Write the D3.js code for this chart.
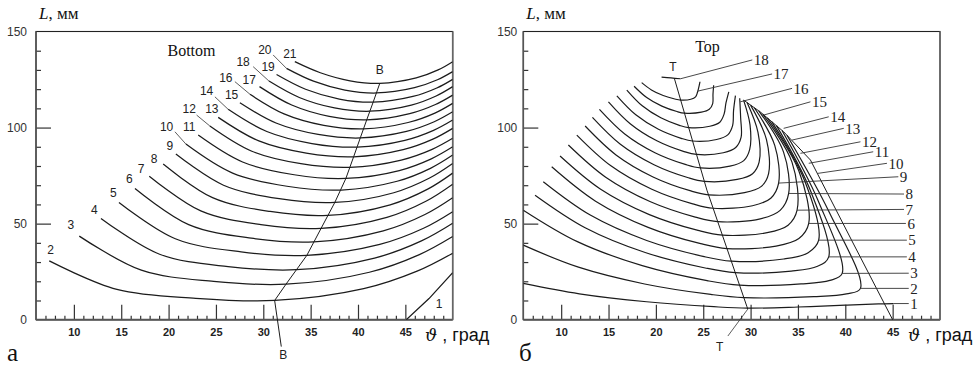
<!DOCTYPE html>
<html><head><meta charset="utf-8">
<script src="https://cdn.jsdelivr.net/npm/d3@7"></script>
<style>body{margin:0;background:#fff}</style>
</head><body>
<svg id="c" width="974" height="365" xmlns="http://www.w3.org/2000/svg"></svg>
<script>
// ---------------- data ----------------
const xMajorTicks = [10, 15, 20, 25, 30, 35, 40, 45];
const yTickLabels = [0, 50, 100, 150];
const yMajorTicks = [50, 100];

// Panel "а" (Bottom): contour curves, points are [theta, L]
const bottomCurveNums = [2,3,4,5,6,7,8,9,10,11,12,13,14,15,16,17,18,19,20,21];
const bottomCurves = [
  [[7.40,30.6],[14.54,15.77],[22.87,11.13],[31.2,10],[40.6,16.15],[46.24,25.25],[50,34.6]],
  [[10.57,43.5],[17.12,25.77],[24.76,19.95],[32.4,18.5],[41.2,24.7],[46.48,33.88],[50,43.3]],
  [[12.86,52.7],[19.05,34.06],[26.28,27.66],[33.5,26],[41.75,32.05],[46.7,41.0],[50,50.2]],
  [[14.76,61.0],[20.71,42.11],[27.66,35.29],[34.6,33.5],[42.3,39.18],[46.92,47.57],[50,56.2]],
  [[16.45,68.3],[22.12,49.51],[28.73,42.42],[35.34,40.5],[42.67,46.25],[47.07,54.76],[50,63.5]],
  [[17.96,74.7],[23.4,56.61],[29.75,49.46],[36.1,47.5],[43.05,53.25],[47.22,61.76],[50,70.5]],
  [[19.43,81.0],[24.64,63.54],[30.72,56.33],[36.8,54.3],[43.4,59.8],[47.36,67.94],[50,76.3]],
  [[20.77,86.2],[25.8,70.0],[31.68,62.99],[37.55,61],[43.78,66.08],[47.51,73.59],[50,81.3]],
  [[21.83,91.4],[26.76,76.3],[32.5,69.46],[38.25,67.5],[44.13,72.05],[47.65,78.78],[50,85.7]],
  [[23.13,96.1],[27.81,82.09],[33.26,75.44],[38.72,73.5],[44.36,77.63],[47.74,83.73],[50,90.0]],
  [[24.36,100.8],[28.79,87.68],[33.97,81.21],[39.14,79.3],[44.57,83.08],[47.83,88.66],[50,94.4]],
  [[25.24,105.3],[29.53,93.04],[34.54,86.71],[39.54,84.8],[44.77,88.5],[47.91,93.98],[50,99.6]],
  [[26.29,109.5],[30.37,97.94],[35.14,91.69],[39.9,89.8],[44.95,93.33],[47.98,98.54],[50,103.9]],
  [[27.53,112.9],[31.34,102.36],[35.79,96.43],[40.24,94.6],[45.12,98.0],[48.05,103.03],[50,108.2]],
  [[28.6,117.3],[32.19,107.13],[36.39,101.15],[40.58,99.3],[45.29,102.63],[48.12,107.55],[50,112.6]],
  [[29.6,121.3],[33.0,111.72],[36.96,105.83],[40.92,104],[45.46,107.23],[48.18,112.0],[50,116.9]],
  [[30.6,124.2],[33.8,115.67],[37.52,110.23],[41.25,108.5],[45.63,111.7],[48.25,116.44],[50,121.3]],
  [[31.4,127.6],[34.46,119.94],[38.03,114.83],[41.6,113.2],[45.8,116.18],[48.32,120.58],[50,125.1]],
  [[32.45,130.8],[35.3,124.13],[38.62,119.5],[41.94,118],[45.97,120.78],[48.39,124.88],[50,129.1]],
  [[33.33,134.3],[36.02,128.54],[39.16,124.36],[42.3,123],[46.15,125.83],[48.46,130.0],[50,134.3]]
];
const bottomCurve1 = [[45.1,0],[47.5,11],[50,24.5]];
const bottomLabelPos = [[7.55,36.2],[9.69,49.2],[12.15,57.0],[14.16,66.0],[15.85,73.5],[17.11,78.4],[18.48,84.0],[20.14,90.4],[19.79,100.4],[22.18,100.4],[22.18,110.0],[24.57,110.0],[24.01,119.2],[26.65,116.9],[26.05,126.1],[28.51,124.7],[27.87,134.3],[30.51,131.7],[30.16,140.7],[32.8,138.6]];
const bottomLabel1Pos = [48.56, 8.4];
const bottomLeaders = [
  [[20.67,97.8],[21.83,91.4]],
  [[22.96,106.5],[24.36,100.8]],
  [[24.89,116.0],[26.29,109.5]],
  [[27.0,123.9],[28.6,117.3]],
  [[28.93,131.7],[30.6,124.2]],
  [[31.04,137.8],[32.45,130.8]]
];
const lineBB = [[31.9,-14],[31.2,10],[32.4,18.5],[33.5,26],[34.6,33.5],[36.1,47.5],[37.55,61],[38.72,73.5],[39.54,84.8],[40.24,94.6],[40.92,104],[41.6,113.2],[42.3,123]];
const labelBTop = [42.3, 129.9];
const labelBBottom = [32.1, -18.5];

// Panel "б" (Top)
const topCurveNums = [1,2,3,4,5,6,7,8,9,10,11,12,13,14,15,16,17,18];
const topCurves = [
  [[6,18.9],[11.92,13.48],[19.02,9.35],[26.12,6.77],[29.67,6],[35,6.6],[40,7.6],[43.5,8.2],[45.1,8.4]],
  [[6,38.8],[11.82,27.33],[18.81,18.6],[25.8,13.14],[29.29,11.5],[36.68,11.98],[40.12,13.42],[41.6,16.3],[38.28,56.15],[33.84,96]],
  [[6,57],[11.71,40.62],[18.56,28.14],[25.41,20.34],[28.83,18],[35.33,18.61],[38.37,20.44],[39.67,24.1],[37.19,61.3],[33.32,98.5]],
  [[7.24,64.8],[12.53,47.87],[18.87,34.98],[25.21,26.92],[28.38,24.5],[34.3,25.32],[37.07,27.78],[38.25,32.7],[36.35,66.85],[32.73,101]],
  [[8.11,71.8],[13.07,54.45],[19.03,41.24],[24.98,32.98],[27.96,30.5],[33.5,31.59],[36.08,34.86],[37.19,41.4],[35.72,72.2],[32.25,103]],
  [[9.0,79.6],[13.63,61.71],[19.18,48.08],[24.73,39.56],[27.51,37],[32.69,38.31],[35.1,42.24],[36.14,50.1],[35.09,77.55],[31.77,105]],
  [[9.88,85.2],[14.17,67.9],[19.31,54.71],[24.45,46.47],[27.02,44],[31.75,45.3],[33.96,49.2],[34.91,57],[34.37,82],[31.29,107]],
  [[10.76,90.9],[14.7,74.14],[19.43,61.37],[24.16,53.39],[26.53,51],[31.02,52.47],[33.12,56.88],[34.02,65.7],[33.48,87.2],[30.86,108.7]],
  [[11.65,96.1],[15.25,80.1],[19.57,67.91],[23.89,60.29],[26.05,58],[30.2,59.31],[32.13,63.24],[32.96,71.1],[32.55,90.7],[30.4,110.3]],
  [[12.53,100.8],[15.79,85.76],[19.7,74.31],[23.6,67.15],[25.56,65],[29.36,66.1],[31.14,69.4],[31.9,76],[31.67,93.85],[30.0,111.7]],
  [[13.3,105.3],[16.25,91.31],[19.8,80.66],[23.34,74.0],[25.11,72],[28.58,73.0],[30.21,76.0],[30.9,82],[30.78,97.5],[29.63,113]],
  [[14.04,109.5],[16.71,96.69],[19.9,86.93],[23.1,80.83],[24.7,79],[27.82,79.95],[29.28,82.8],[29.9,88.5],[29.94,101.4],[29.26,114.3]],
  [[14.99,113.4],[17.32,101.89],[20.1,93.12],[22.9,87.64],[24.29,86],[27.12,86.9],[28.43,89.6],[29.0,95],[28.95,105.15],[28.85,115.3]],
  [[15.88,116.5],[17.88,106.63],[20.27,99.11],[22.67,94.41],[23.87,93],[26.41,93.8],[27.59,96.2],[28.1,101],[28.2,108.8],[28.4,116.6]],
  [[16.93,119.5],[18.56,111.31],[20.52,105.07],[22.48,101.17],[23.46,100],[25.7,100.7],[26.75,102.8],[27.2,107],[27.4,112.8],[27.7,118.6]],
  [[17.7,121.5],[19.03,115.62],[20.63,111.14],[22.22,108.34],[23.02,107.5],[24.81,108.0],[25.64,109.5],[26.0,112.5],[26.03,117.3],[26.1,122.0]],
  [[18.5,123.4],[19.53,119.58],[20.77,116.67],[22.0,114.85],[22.62,114.3],[23.69,114.72],[24.19,116.0],[24.4,118.5],[24.66,123.9]],
  [[20.6,126.3],[21.6,125.9],[22.6,125.4]]
];
const topLeaders = [
  [[45.1,8.4],[46.7,8.4]],
  [[41.6,16.3],[46.7,16.3]],
  [[39.67,24.1],[46.7,24.2]],
  [[38.25,32.7],[46.5,32.7]],
  [[37.19,41.4],[46.5,41.4]],
  [[36.14,50.1],[46.4,50.1]],
  [[34.91,57.0],[46.2,57.4]],
  [[34.02,65.7],[46.2,65.4]],
  [[32.96,71.1],[45.6,74.4]],
  [[37.02,76.1],[44.4,81.4]],
  [[36.14,81.4],[42.95,87.4]],
  [[35.26,86.6],[41.6,92.6]],
  [[34.38,93.5],[39.84,99.6]],
  [[33.49,99.6],[38.25,105.6]],
  [[31.38,106.5],[36.32,113.4]],
  [[28.91,113.4],[34.38,120.4]],
  [[24.45,119.0],[32.27,127.9]],
  [[22.6,125.4],[30.18,135.2]]
];
const lineTT = [[21.95,125.6],[25.39,67.4],[29.62,6.7],[29.7,5.5]];
const lineTTtail = [[29.7,5.5],[27.6,-8.5]];
const limitLine = [[45,0],[40.6,42],[36.32,83.1],[33.49,97.8],[31.03,108.1],[29.26,114.3]];
const labelTTop = [21.8, 131.7];
const labelTBottom = [26.73, -14.2];

// ---------------- drawing ----------------
const svg = d3.select("#c");
const INK = "#1c1c1c";
const SANS = "'Liberation Sans', Arial, sans-serif";
const SERIF = "'Liberation Serif', 'Times New Roman', serif";

function makePanel(opt) {
  const x = d3.scaleLinear().domain([6, 50]).range([opt.x0, opt.x1]);
  const y = d3.scaleLinear().domain([0, 150]).range([319.7, 31.5]);
  const g = svg.append("g");
  const clipId = "clip" + opt.id;
  svg.append("defs").append("clipPath").attr("id", clipId)
    .append("rect").attr("x", opt.x0).attr("y", 31.5)
    .attr("width", opt.x1 - opt.x0).attr("height", 319.7 - 31.5);

  // ticks (inside)
  const minorX = d3.range(7, 50).filter(v => !xMajorTicks.includes(v));
  const ax = (a) => a.call(s => s.select(".domain").remove());
  g.append("g").attr("transform", `translate(0,319.7)`)
    .call(d3.axisBottom(x).tickValues(minorX).tickSize(-4).tickFormat(""))
    .call(ax);
  const xa = g.append("g").attr("transform", `translate(0,319.7)`)
    .call(d3.axisBottom(x).tickValues(xMajorTicks).tickSize(-15).tickPadding(9).tickFormat(d3.format("d")))
    .call(ax);
  xa.selectAll("text").attr("font-family", SANS).attr("font-size", 11)
    .attr("font-weight", "bold").attr("fill", "#222");
  const minorY = d3.range(10, 150, 10).filter(v => !yMajorTicks.includes(v));
  g.append("g").attr("transform", `translate(${opt.x0},0)`)
    .call(d3.axisLeft(y).tickValues(minorY).tickSize(-5).tickFormat(""))
    .call(ax);
  g.append("g").attr("transform", `translate(${opt.x0},0)`)
    .call(d3.axisLeft(y).tickValues(yMajorTicks).tickSize(-15).tickFormat(""))
    .call(ax);
  const ya = g.append("g").attr("transform", `translate(${opt.x0},0)`)
    .call(d3.axisLeft(y).tickValues(yTickLabels).tickSize(0).tickPadding(opt.yPad).tickFormat(d3.format("d")))
    .call(ax);
  ya.selectAll("text").attr("font-family", SANS).attr("font-size", 12).attr("fill", "#333");
  g.selectAll(".tick line").attr("stroke", "#333").attr("stroke-width", 1.2);

  // frame
  g.append("rect").attr("x", opt.x0).attr("y", 31.5)
    .attr("width", opt.x1 - opt.x0).attr("height", 319.7 - 31.5)
    .attr("fill", "none").attr("stroke", "#222").attr("stroke-width", 1.1);
  g.append("line").attr("x1", opt.x0).attr("x2", opt.x1).attr("y1", 319.7).attr("y2", 319.7)
    .attr("stroke", "#555").attr("stroke-width", 2);
  g.append("line").attr("x1", opt.x0).attr("x2", opt.x0).attr("y1", 31.5).attr("y2", 319.7)
    .attr("stroke", "#555").attr("stroke-width", 1.6);
  g.append("line").attr("x1", opt.x1).attr("x2", opt.x1).attr("y1", 31.5).attr("y2", 319.7)
    .attr("stroke", "#666").attr("stroke-width", 1.6);

  // axis titles
  const lt = g.append("text").attr("x", opt.x0 + 3).attr("y", 19)
    .attr("font-family", SERIF).attr("font-size", 17).attr("fill", "#111");
  lt.append("tspan").attr("font-style", "italic").text("L");
  lt.append("tspan").text(", мм");
  const xt = g.append("text").attr("x", opt.xTitle).attr("y", 341).attr("fill", "#111");
  xt.append("tspan").attr("font-family", "'DejaVu Serif', " + SERIF).attr("font-style", "italic")
    .attr("font-size", 17).text("ϑ");
  xt.append("tspan").attr("font-family", SANS).attr("font-size", 18).text(" , град");
  g.append("text").attr("x", opt.letterX).attr("y", 361).attr("font-family", SERIF)
    .attr("font-size", 25).attr("fill", "#111").text(opt.letter);

  const line = d3.line().x(d => x(d[0])).y(d => y(d[1])).curve(d3.curveCatmullRom.alpha(0.5));
  const lineLin = d3.line().x(d => x(d[0])).y(d => y(d[1]));
  const curveG = g.append("g").attr("clip-path", `url(#${clipId})`);
  return { x, y, g, curveG, line, lineLin };
}

// ----- Panel а (Bottom)
const A = makePanel({ id: "a", x0: 36, x1: 452.7, yPad: 9, xTitle: 425, letter: "а", letterX: 7 });
A.curveG.selectAll("path.c").data(bottomCurves).join("path")
  .attr("d", A.line).attr("fill", "none").attr("stroke", INK).attr("stroke-width", 1.25);
A.curveG.append("path").attr("d", A.lineLin(bottomCurve1)).attr("fill", "none")
  .attr("stroke", INK).attr("stroke-width", 1.25);
A.g.selectAll("path.ld").data(bottomLeaders).join("path")
  .attr("d", A.lineLin).attr("fill", "none").attr("stroke", "#333").attr("stroke-width", 0.8);
A.g.append("path").attr("d", A.lineLin(lineBB)).attr("fill", "none")
  .attr("stroke", INK).attr("stroke-width", 1);
A.g.selectAll("text.n").data(bottomCurveNums).join("text")
  .attr("x", (d, i) => A.x(bottomLabelPos[i][0])).attr("y", (d, i) => A.y(bottomLabelPos[i][1]))
  .attr("text-anchor", "middle").attr("dy", "0.35em")
  .attr("font-family", SANS).attr("font-size", 12).attr("fill", "#222").text(d => d);
A.g.append("text").attr("x", A.x(bottomLabel1Pos[0])).attr("y", A.y(bottomLabel1Pos[1]))
  .attr("text-anchor", "middle").attr("dy", "0.35em")
  .attr("font-family", SANS).attr("font-size", 12).attr("fill", "#222").text("1");
[[labelBTop, "B"], [labelBBottom, "B"]].forEach(([p, t]) => {
  A.g.append("text").attr("x", A.x(p[0])).attr("y", A.y(p[1])).attr("text-anchor", "middle")
    .attr("dy", "0.35em").attr("font-family", SANS).attr("font-size", 12).attr("fill", "#222").text(t);
});
A.g.append("text").attr("x", 191.5).attr("y", 56).attr("text-anchor", "middle")
  .attr("font-family", SERIF).attr("font-size", 16).attr("fill", "#111").text("Bottom");

// ----- Panel б (Top)
const B = makePanel({ id: "b", x0: 523.3, x1: 940, yPad: 6, xTitle: 908, letter: "б", letterX: 519 });
B.curveG.selectAll("path.c").data(topCurves).join("path")
  .attr("d", B.line).attr("fill", "none").attr("stroke", INK).attr("stroke-width", 1.2);
B.g.append("path").attr("d", B.lineLin(limitLine)).attr("fill", "none")
  .attr("stroke", INK).attr("stroke-width", 1);
B.g.append("path").attr("d", B.lineLin(lineTT)).attr("fill", "none")
  .attr("stroke", INK).attr("stroke-width", 1);
B.g.append("path").attr("d", B.lineLin(lineTTtail)).attr("fill", "none")
  .attr("stroke", "#333").attr("stroke-width", 0.8);
B.g.selectAll("path.ld").data(topLeaders).join("path")
  .attr("d", B.lineLin).attr("fill", "none").attr("stroke", "#333").attr("stroke-width", 0.9);
B.g.selectAll("text.n").data(topCurveNums).join("text")
  .attr("x", (d, i) => B.x(topLeaders[i][1][0]) + 1.5).attr("y", (d, i) => B.y(topLeaders[i][1][1]))
  .attr("dy", "0.35em").attr("font-family", SERIF).attr("font-size", 15).attr("fill", "#222").text(d => d);
[[labelTTop, "T"], [labelTBottom, "T"]].forEach(([p, t]) => {
  B.g.append("text").attr("x", B.x(p[0])).attr("y", B.y(p[1])).attr("text-anchor", "middle")
    .attr("dy", "0.35em").attr("font-family", SANS).attr("font-size", 12).attr("fill", "#222").text(t);
});
B.g.append("text").attr("x", 707.5).attr("y", 52).attr("text-anchor", "middle")
  .attr("font-family", SERIF).attr("font-size", 16).attr("fill", "#111").text("Top");
</script>
</body></html>
